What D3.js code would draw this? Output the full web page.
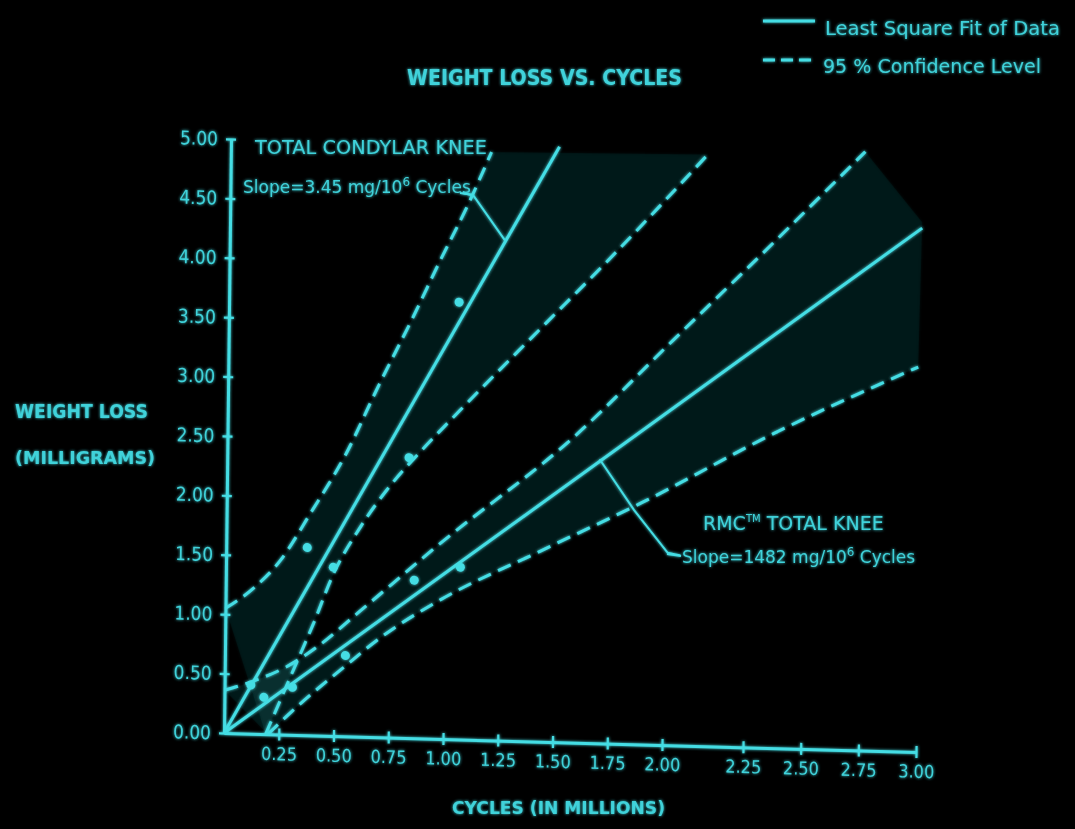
<!DOCTYPE html>
<html>
<head>
<meta charset="utf-8">
<script src="https://cdn.jsdelivr.net/npm/d3@7/dist/d3.min.js"></script>
<style>
  body { margin: 0; background: #000; }
  svg { display: block; }
</style>
</head>
<body>
<svg id="chart" width="1075" height="829"></svg>
<script>
// tick labels
const cyclesTicks = [0.25, 0.5, 0.75, 1.0, 1.25, 1.5, 1.75, 2.0, 2.25, 2.5, 2.75, 3.0];
const lossTicks = [0, 0.5, 1.0, 1.5, 2.0, 2.5, 3.0, 3.5, 4.0, 4.5, 5.0];

// Total Condylar knee
const tcFitX = [0, 1.50];
const tcFitY = [0, 5.01];
const tcUpperX = [0, 0.13, 0.25, 0.38, 0.54, 0.69, 0.84, 0.96, 1.08, 1.19];
const tcUpperY = [1.05, 1.23, 1.47, 1.86, 2.37, 2.97, 3.54, 4.02, 4.48, 4.95];
const tcLowerX = [0.19, 0.26, 0.33, 0.40, 0.49, 0.61, 0.75, 0.88, 1.06, 1.42, 1.72, 2.12];
const tcLowerY = [0, 0.31, 0.62, 0.93, 1.36, 1.76, 2.13, 2.41, 2.77, 3.47, 4.05, 4.98];
const tcPointX = [0.12, 0.37, 0.49, 0.83, 1.05];
const tcPointY = [0.41, 1.58, 1.42, 2.36, 3.68];
const tcLeaderX = [1.06, 1.11, 1.26];
const tcLeaderY = [4.60, 4.58, 4.20];

// RMC total knee
const rmcFitX = [0, 3.0];
const rmcFitY = [0, 4.41];
const rmcUpperX = [0, 0.14, 0.28, 0.43, 0.61, 0.98, 1.58, 2.02, 2.36, 2.75];
const rmcUpperY = [0.36, 0.45, 0.57, 0.76, 1.05, 1.65, 2.57, 3.41, 4.26, 5.04];
const rmcLowerX = [0.20, 0.35, 0.53, 0.71, 0.98, 1.43, 1.89, 2.37, 2.99];
const rmcLowerY = [0, 0.27, 0.56, 0.84, 1.17, 1.60, 2.03, 2.65, 3.24];
const rmcBandEdgeX = [3.0];
const rmcBandEdgeY = [4.46];
const rmcPointX = [0.18, 0.31, 0.55, 0.86, 1.07];
const rmcPointY = [0.31, 0.40, 0.68, 1.33, 1.45];
const rmcLeaderX = [1.70, 1.86, 2.01, 2.05];
const rmcLeaderY = [2.39, 1.97, 1.62, 1.60];

const lineCol = "#44dde4";
const textCol = "#3fd2da";
const labelFont = "'DejaVu Sans', 'Liberation Sans', sans-serif";
const tickFont = "'DejaVu Sans Condensed', 'DejaVu Sans', sans-serif";

const svg = d3.select("#chart");

const defs = svg.append("defs");
const glow = defs.append("filter").attr("id", "glow")
  .attr("x", "-5%").attr("y", "-5%").attr("width", "110%").attr("height", "110%");
glow.append("feGaussianBlur").attr("stdDeviation", 1.4).attr("result", "b");
const merge = glow.append("feMerge");
merge.append("feMergeNode").attr("in", "b");
merge.append("feMergeNode").attr("in", "SourceGraphic");

const root = svg.append("g").attr("filter", "url(#glow)");

// the slide was photographed a little skewed, so the plot frame is too
const plot = root.append("g")
  .attr("transform", "translate(224,733) matrix(1,0.0275,-0.0118,1,0,0)");

// x axis tick spacing on the slide is not uniform (gap after 2.00)
const x = d3.scaleLinear().domain([0, 2, 2.25, 3]).range([0, 438, 519, 692]);
const y = d3.scaleLinear().domain([0, 5]).range([0, -594]);

const zip = (xs, ys) => xs.map((d, i) => [d, ys[i]]);
const line = d3.line().x(d => x(d[0])).y(d => y(d[1]));
const curve = d3.line().x(d => x(d[0])).y(d => y(d[1])).curve(d3.curveMonotoneX);

// shaded confidence bands (faint stipple on the slide)
const tcBandPath = curve(zip(tcUpperX, tcUpperY)) + "L" +
  curve(zip(tcLowerX, tcLowerY).reverse()).slice(1) + "Z";
const rmcBandPath = curve(zip(rmcUpperX, rmcUpperY)) +
  "L" + x(rmcBandEdgeX[0]) + "," + y(rmcBandEdgeY[0]) + "L" +
  curve(zip(rmcLowerX, rmcLowerY).reverse()).slice(1) + "Z";
[tcBandPath, rmcBandPath].forEach(p => {
  plot.append("path")
    .attr("d", p)
    .attr("fill", "#2aa9b0")
    .attr("fill-opacity", 0.075);
});

// axes
const xAxis = plot.append("g")
  .call(d3.axisBottom(x).tickValues(cyclesTicks).tickFormat(d3.format(".2f"))
    .tickSize(6).tickPadding(7).tickSizeOuter(0));
const yAxis = plot.append("g")
  .call(d3.axisLeft(y).tickValues(lossTicks).tickFormat(d3.format(".2f"))
    .tickSize(5).tickPadding(8).tickSizeOuter(0));

[xAxis, yAxis].forEach(a => {
  a.attr("color", lineCol).attr("font-family", tickFont).attr("font-size", 19);
  a.select(".domain").attr("stroke-width", 3);
  a.selectAll(".tick line").attr("stroke-width", 2.2);
  a.selectAll(".tick text").attr("fill", textCol);
});
xAxis.selectAll(".tick line").attr("y1", -6);
xAxis.attr("font-size", 18);
yAxis.selectAll(".tick line").attr("x1", 5);

// fit lines and confidence limits
const solid = [zip(tcFitX, tcFitY), zip(rmcFitX, rmcFitY)];
const dashed = [zip(tcUpperX, tcUpperY), zip(tcLowerX, tcLowerY),
                zip(rmcUpperX, rmcUpperY), zip(rmcLowerX, rmcLowerY)];

plot.selectAll(".fit").data(solid).enter().append("path")
  .attr("class", "fit")
  .attr("d", line)
  .attr("fill", "none").attr("stroke", lineCol).attr("stroke-width", 3);

plot.selectAll(".conf").data(dashed).enter().append("path")
  .attr("class", "conf")
  .attr("d", curve)
  .attr("fill", "none").attr("stroke", lineCol).attr("stroke-width", 3)
  .attr("stroke-dasharray", "14 8");

// leaders
[zip(tcLeaderX, tcLeaderY), zip(rmcLeaderX, rmcLeaderY)].forEach(l => {
  plot.append("path").attr("d", line(l))
    .attr("fill", "none").attr("stroke", lineCol).attr("stroke-width", 2);
});

// data points
const pts = zip(tcPointX, tcPointY).concat(zip(rmcPointX, rmcPointY));
plot.selectAll(".pt").data(pts).enter().append("circle")
  .attr("class", "pt")
  .attr("cx", d => x(d[0])).attr("cy", d => y(d[1]))
  .attr("r", 4.5).attr("fill", lineCol);

// text
function label(txt, px, py, size, len, weight) {
  const t = root.append("text")
    .attr("x", px).attr("y", py)
    .attr("fill", textCol)
    .attr("font-family", labelFont)
    .attr("font-size", size)
    .attr("font-weight", weight || "bold")
    .text(txt);
  if (len) t.attr("textLength", len).attr("lengthAdjust", "spacingAndGlyphs");
  return t;
}

label("WEIGHT LOSS VS. CYCLES", 407, 85, 21, 275);
label("Least Square Fit of Data", 825, 35, 19.5, 235, "normal");
label("95 % Confidence Level", 823, 73, 19.5, 218, "normal");
label("TOTAL CONDYLAR KNEE", 255, 154, 20, 232, "normal");
label("WEIGHT LOSS", 15, 418, 19, 133);
label("(MILLIGRAMS)", 15, 464, 18, 140);
label("CYCLES (IN MILLIONS)", 452, 814, 18, 213);

// legend keys
root.append("line").attr("x1", 763).attr("x2", 815).attr("y1", 21).attr("y2", 21)
  .attr("stroke", lineCol).attr("stroke-width", 3);
root.append("line").attr("x1", 763).attr("x2", 815).attr("y1", 60).attr("y2", 60)
  .attr("stroke", lineCol).attr("stroke-width", 3).attr("stroke-dasharray", "12 6");

// slope notes
const s1 = label("", 243, 193, 17, null, "normal");
s1.append("tspan").text("Slope=3.45 mg/10");
s1.append("tspan").attr("dy", -7).attr("font-size", 12).text("6");
s1.append("tspan").attr("dy", 7).text(" Cycles");

const r1 = label("", 703, 530, 19, null, "normal");
r1.append("tspan").text("RMC");
r1.append("tspan").attr("dy", -8).attr("font-size", 10).text("TM");
r1.append("tspan").attr("dy", 8).text(" TOTAL  KNEE");

const s2 = label("", 682, 563, 17, null, "normal");
s2.append("tspan").text("Slope=1482 mg/10");
s2.append("tspan").attr("dy", -7).attr("font-size", 12).text("6");
s2.append("tspan").attr("dy", 7).text(" Cycles");

// short ticks joining leaders to notes
root.append("line").attr("x1", 460).attr("x2", 474).attr("y1", 193).attr("y2", 195)
  .attr("stroke", lineCol).attr("stroke-width", 2);
root.append("line").attr("x1", 667).attr("x2", 681).attr("y1", 554).attr("y2", 556)
  .attr("stroke", lineCol).attr("stroke-width", 2);
</script>
</body>
</html>
